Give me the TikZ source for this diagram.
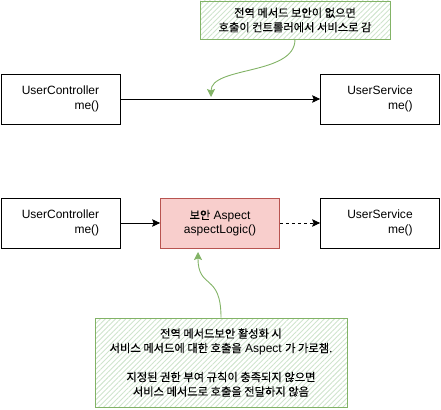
\documentclass[tikz,border=0pt]{standalone}
\usepackage{fontspec}
\setmainfont{Liberation Sans}
\newfontfamily\kr[Scale=0.94,FakeBold=0.12]{Noto Sans CJK KR}
\usetikzlibrary{arrows.meta,patterns.meta}
\definecolor{notegreen}{HTML}{82B366}
\definecolor{notehatch}{HTML}{CFE4CD}
\definecolor{aspectfill}{HTML}{F8CECC}
\definecolor{aspectline}{HTML}{B85450}
\tikzset{
  classbox/.style={draw=black, line width=0.8pt, minimum width=119pt, minimum height=50pt,
    align=right, inner sep=0pt},
  aspectbox/.style={classbox, fill=aspectfill, draw=aspectline, align=center},
  notebox/.style={draw=notegreen, line width=0.9pt, align=center, inner sep=0pt,
    pattern={Lines[angle=45,distance=3.6pt,line width=0.9pt]}, pattern color=notehatch},
  callarrow/.style={line width=0.8pt, -{Stealth[length=8pt,width=7.5pt,inset=1.5pt]}},
  notearrow/.style={draw=notegreen, line width=0.9pt,
    -{Stealth[length=8pt,width=8pt,inset=1.5pt,fill=notegreen]}}
}
\begin{document}
\begin{tikzpicture}[font=\fontsize{12}{14.5}\selectfont]
\useasboundingbox (0,0) rectangle (441pt,-409pt);
% without method security
\node[classbox] (ctrlA) at (60.5pt,-99pt) {UserController\\me()};
\node[classbox] (svcA) at (380pt,-99pt) {UserService\\me()};
\draw[callarrow] (ctrlA.east) -- (svcA.west);
\node[notebox, minimum width=190pt, minimum height=38pt] (noteA) at (295pt,-20pt)
  {{\kr 전역 메서드 보안이 없으면}\\{\kr 호출이 컨트롤러에서 서비스로 감}};
\coordinate (hitA) at (211pt,-97pt);
\draw[notearrow] (noteA.south) .. controls +(0pt,-36pt) and +(0pt,31pt) .. (hitA);
% with method security
\node[classbox] (ctrlB) at (60.5pt,-223pt) {UserController\\me()};
\node[aspectbox] (aspect) at (220pt,-223pt) {{\kr 보안} Aspect\\aspectLogic()};
\node[classbox] (svcB) at (380pt,-223pt) {UserService\\me()};
\draw[callarrow] (ctrlB.east) -- (aspect.west);
\draw[callarrow, dashed] (aspect.east) -- (svcB.west);
\node[notebox, minimum width=252pt, minimum height=89pt] (noteB) at (221pt,-362.5pt)
  {{\kr 전역 메서드보안 활성화 시}\\{\kr 서비스 메서드에 대한 호출을} Aspect {\kr 가 가로챔.}\\[14.5pt]
   {\kr 지정된 권한 부여 규칙이 충족되지 않으면}\\{\kr 서비스 메서드로 호출을 전달하지 않음}};
\coordinate (hitB) at (198pt,-252pt);
\draw[notearrow] (noteB.north) .. controls +(0pt,45pt) and +(0pt,-38pt) .. (hitB);
\end{tikzpicture}
\end{document}
